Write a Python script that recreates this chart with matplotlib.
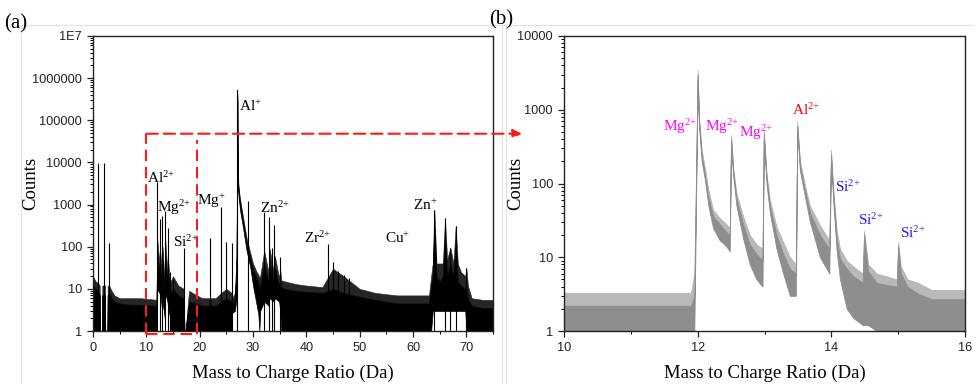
import numpy as np
import matplotlib
matplotlib.use('Agg')
import matplotlib.pyplot as plt
from matplotlib.ticker import LogLocator, FixedLocator, MultipleLocator, NullFormatter
from matplotlib.patches import ConnectionPatch
from matplotlib.lines import Line2D
from matplotlib.transforms import blended_transform_factory

plt.rcParams['mathtext.default'] = 'regular'
SERIF = 'Liberation Serif'
SANS = 'Liberation Sans'

# ---------------- Panel (a): full spectrum 0-75 Da ----------------
# envelope of the dense spectrum: x (Da), spike top, dense top, lower edge
a_x = [0.0, 0.5, 0.9, 1.25, 1.3, 1.7, 1.75, 2.25, 2.3, 2.7, 2.75, 3.0, 3.5, 4.0, 5.0, 7.0, 9.0, 11.9,
       12.05, 12.45, 12.55, 12.95, 13.05, 13.45, 13.55, 13.95, 14.05, 14.45, 14.55, 15.0, 16.0,
       17.0, 17.15, 17.35, 18.0, 19.5, 20.5, 22.0, 23.0, 24.0, 25.0, 26.0, 26.1, 26.6, 26.9, 27.0,
       27.05, 27.1, 27.2, 27.3, 27.6, 28.2, 28.8, 29.45, 30.0, 30.7, 31.0, 31.2, 31.35,
       32.1, 32.9, 33.1, 33.9, 34.1, 34.9, 35.1, 35.3, 36.0, 38.0, 40.0, 43.0, 45.0, 47.0,
       50.0, 53.0, 57.0, 60.0, 63.0, 63.4, 63.7, 64.0, 64.4, 65.0, 65.6, 66.0, 66.4, 67.0,
       67.6, 68.0, 68.4, 69.0, 69.8, 70.0, 70.3, 71.0, 73.0, 75.0]
a_hi = [20, 15, 14, 12, 1, 1, 12, 12, 1, 1, 12, 12, 9, 7, 6, 6, 6, 5.5,
        150, 40, 100, 20, 100, 12, 150, 25, 60, 10, 15, 20, 12,
        10, 1, 1, 9, 7, 6, 6, 6, 8, 10, 8, 6, 8, 60, 5000,
        530000, 30000, 5000, 2500, 1300, 450, 160, 75, 40, 25, 22, 18, 20,
        80, 25, 90, 25, 60, 18, 30, 16, 15, 13, 12, 11, 30, 20,
        10, 8, 7, 7, 7, 20, 40, 750, 40, 40, 40, 475, 50, 95,
        40, 315, 40, 25, 20, 31, 12, 6, 5.5, 5.5]
a_mid = [12, 10, 9, 7, 1, 1, 7, 7, 1, 1, 7, 8, 6, 5, 4.5, 4.2, 4.2, 4,
         60, 25, 50, 12, 50, 8, 60, 15, 30, 6, 8, 10, 7,
         6, 1, 1, 5, 4.5, 4, 4, 4, 5, 6, 5, 4, 6, 30, 2000,
         400000, 20000, 3500, 2000, 1000, 350, 120, 55, 28, 18, 14, 10, 12,
         40, 14, 40, 15, 30, 12, 15, 11, 10, 9, 8.5, 8, 10, 8,
         6.5, 5.5, 4.5, 4.5, 4.5, 12, 20, 300, 20, 15, 20, 200, 20, 40,
         20, 150, 15, 12, 10, 12, 6, 4, 3.5, 3.5]
a_lo = [1, 1, 1, 1, 1, 1, 1, 1, 1, 1, 1, 1, 1, 1, 1, 1, 1, 1,
        10, 8, 10, 3, 5, 2, 8, 5, 4, 2, 1, 1, 1,
        1, 1, 1, 1, 1, 1, 1, 1, 1, 1, 1, 2.7, 3, 6, 100,
        300000, 10000, 2500, 1500, 700, 250, 80, 35, 12, 4, 2.5, 1, 3,
        5, 4, 6, 5, 6, 5, 3, 1, 1, 1, 1, 1, 1, 1,
        1, 1, 1, 1, 1, 1, 3, 3, 3, 3, 3, 3, 3, 3,
        3, 3, 3, 3, 3, 1, 1, 1, 1, 1]
# individual sharp peaks (Da, counts)
a_peak_x = [1.0, 2.0, 3.0, 12.0, 12.5, 13.0, 13.5, 14.0, 14.5, 15.0, 17.0, 22.0, 24.0, 25.0,
            26.0, 27.05, 29.0, 32.0, 33.0, 33.5, 34.0, 35.0, 44.0, 45.0, 46.0, 47.0, 48.0,
            64.0, 66.0, 67.0, 68.0, 70.0]
a_peak_h = [9500, 9500, 120, 3500, 450, 530, 700, 280, 25, 16, 95, 160, 880, 130,
            120, 530000, 1200, 680, 520, 92, 330, 58, 115, 44, 26, 21, 18,
            750, 475, 95, 315, 31]
a_lab_text = [r'Al$^{+}$', r'Al$^{2{+}}$', r'Mg$^{2{+}}$', r'Si$^{2{+}}$', r'Mg$^{+}$',
              r'Zn$^{2{+}}$', r'Zr$^{2{+}}$', r'Cu$^{+}$', r'Zn$^{+}$']
a_lab_x = [27.4, 10.1, 12.0, 15.0, 19.5, 31.3, 39.6, 54.75, 60.0]
a_lab_y = [166000, 3240, 665, 98, 980, 630, 122, 122, 740]
a_xticks = [0, 10, 20, 30, 40, 50, 60, 70]
a_yticks = [1, 10, 100, 1000, 10000, 100000, 1000000, 10000000]
a_yticklabels = ['1', '10', '100', '1000', '10000', '100000', '1000000', '1E7']

# ---------------- Panel (b): zoom 10-16 Da ----------------
b_x = [10.0, 11.9, 11.95, 12.0, 12.02, 12.06, 12.11, 12.16, 12.23, 12.33, 12.43, 12.48,
       12.5, 12.53, 12.58, 12.68, 12.78, 12.88, 12.97, 12.99, 13.03, 13.08, 13.18, 13.28,
       13.38, 13.47, 13.49, 13.53, 13.6, 13.68, 13.83, 13.97, 13.995, 14.03, 14.08, 14.13,
       14.23, 14.33, 14.47, 14.49, 14.55, 14.68, 14.83, 14.98, 15.0, 15.04, 15.14, 15.3,
       15.5, 16.0]
b_hi = [3.3, 3.3, 6, 3500, 810, 285, 160, 82, 44, 34, 28, 25,
        455, 170, 74, 36, 20, 15, 13, 530, 138, 60, 26, 16,
        10, 8, 690, 208, 100, 50, 27, 17, 285, 82, 23, 13,
        9, 7.5, 6, 23, 8, 6, 5.5, 5, 16, 7.5, 5, 4.5,
        3.6, 3.6]
b_mid = [2.2, 2.2, 3, 3000, 700, 240, 130, 65, 36, 28, 22, 20,
         400, 150, 62, 28, 15, 11, 9, 470, 120, 50, 20, 11,
         7, 6, 600, 180, 85, 40, 20, 13, 250, 70, 18, 9.5,
         7, 5.5, 4.5, 20, 6.5, 4.5, 4.2, 4, 14, 6, 4, 3.2,
         2.7, 2.7]
b_lo = [1, 1, 1, 2500, 600, 200, 110, 50, 25, 17, 14, 12,
        350, 130, 50, 18, 8, 5, 4, 400, 100, 40, 13, 6,
        3, 3, 500, 150, 70, 30, 10, 6, 220, 55, 12, 5,
        2, 1.5, 1.2, 1.2, 1.2, 1, 1, 1, 1, 1, 1, 1,
        1, 1]
b_lab_text = [r'Mg$^{2{+}}$', r'Mg$^{2{+}}$', r'Mg$^{2{+}}$', r'Al$^{2{+}}$',
              r'Si$^{2{+}}$', r'Si$^{2{+}}$', r'Si$^{2{+}}$']
b_lab_x = [11.48, 12.11, 12.62, 13.41, 14.06, 14.40, 15.03]
b_lab_y = [515, 515, 427, 850, 77, 27, 18]
b_lab_col = ['#ff00ff', '#ff00ff', '#ff00ff', '#ff0000', '#1a1aff', '#1a1aff', '#1a1aff']
b_xticks = [10, 12, 14, 16]
b_yticks = [1, 10, 100, 1000, 10000]

# zoom box drawn on panel (a)
box_x = [10.0, 19.5]
box_y = [0.85, 48000]

W, H = 979, 388
fig = plt.figure(figsize=(W / 100, H / 100), dpi=100)
ax_a = fig.add_axes([93 / W, 1 - 331 / H, 400 / W, 295 / H])
ax_b = fig.add_axes([564 / W, 1 - 331 / H, 401 / W, 295 / H])


def style(ax):
    for s in ax.spines.values():
        s.set_linewidth(1.0)
        s.set_color('#222222')
    ax.tick_params(which='major', direction='out', length=4.5, width=0.9, pad=3.5,
                   labelsize=9.2, colors='#222222')
    ax.tick_params(which='minor', direction='out', length=2.5, width=0.7)
    for lab in ax.get_xticklabels() + ax.get_yticklabels():
        lab.set_fontfamily(SANS)


# ---- panel a ----
ax_a.fill_between(a_x, a_mid, a_hi, color='#262626', lw=0.4, edgecolor='#262626')
ax_a.fill_between(a_x, a_lo, a_mid, color='black', lw=0.5, edgecolor='black')
ax_a.vlines(a_peak_x, 1, a_peak_h, color='black', lw=0.8)
ax_a.set_yscale('log')
ax_a.set_xlim(0, 75)
ax_a.set_ylim(1, 1e7)
ax_a.xaxis.set_major_locator(FixedLocator(a_xticks))
ax_a.xaxis.set_minor_locator(MultipleLocator(5))
ax_a.yaxis.set_major_locator(FixedLocator(a_yticks))
ax_a.set_yticklabels(a_yticklabels)
ax_a.yaxis.set_minor_locator(LogLocator(base=10, subs=np.arange(2, 10), numticks=20))
ax_a.yaxis.set_minor_formatter(NullFormatter())
style(ax_a)
for t, x, y in zip(a_lab_text, a_lab_x, a_lab_y):
    ax_a.text(x, y, t, fontsize=11, fontfamily=SERIF, ha='left', va='baseline', color='black')
ax_a.set_xlabel('Mass to Charge Ratio (Da)', fontsize=13.5, fontfamily=SERIF)
ax_a.set_ylabel('Counts', fontsize=13.5, fontfamily=SERIF)
ax_a.xaxis.set_label_coords(0.5, -0.115)
ax_a.yaxis.set_label_coords(-0.135, 0.5)

# zoom box
red_kw = dict(color='#ff1a1a', lw=1.5, dashes=(5.5, 2.8), clip_on=False, zorder=5)
ax_a.plot([box_x[0], box_x[0]], box_y, **red_kw)
ax_a.plot(box_x, [box_y[0], box_y[0]], **red_kw)
ax_a.plot([box_x[1], box_x[1]], [box_y[0], box_y[1] * 0.7], **red_kw)
tB = blended_transform_factory(ax_b.transAxes, ax_a.transData)
con = ConnectionPatch(xyA=(box_x[0], box_y[1]), coordsA=ax_a.transData,
                      xyB=(-0.105, box_y[1]), coordsB=tB,
                      arrowstyle='-|>', mutation_scale=13, color='#ff1a1a',
                      lw=1.5, linestyle=(0, (5.5, 2.8)), zorder=5)
fig.add_artist(con)

# ---- panel b ----
ax_b.fill_between(b_x, b_mid, b_hi, color='#b9b9b9', lw=0.5, edgecolor='#b0b0b0')
ax_b.fill_between(b_x, b_lo, b_mid, color='#8e8e8e', lw=0.6, edgecolor='#8e8e8e')
ax_b.set_yscale('log')
ax_b.set_xlim(10, 16)
ax_b.set_ylim(1, 10000)
ax_b.xaxis.set_major_locator(FixedLocator(b_xticks))
ax_b.xaxis.set_minor_locator(MultipleLocator(1))
ax_b.yaxis.set_major_locator(FixedLocator(b_yticks))
ax_b.set_yticklabels([str(v) for v in b_yticks])
ax_b.yaxis.set_minor_locator(LogLocator(base=10, subs=np.arange(2, 10), numticks=20))
ax_b.yaxis.set_minor_formatter(NullFormatter())
style(ax_b)
for t, x, y, c in zip(b_lab_text, b_lab_x, b_lab_y, b_lab_col):
    ax_b.text(x, y, t, fontsize=11, fontfamily=SERIF, ha='left', va='baseline', color=c)
ax_b.set_xlabel('Mass to Charge Ratio (Da)', fontsize=13.5, fontfamily=SERIF)
ax_b.set_ylabel('Counts', fontsize=13.5, fontfamily=SERIF)
ax_b.xaxis.set_label_coords(0.5, -0.115)
ax_b.yaxis.set_label_coords(-0.10, 0.5)

# panel letters
fig.text(4 / W, 1 - 28 / H, '(a)', fontsize=15, fontfamily=SERIF, ha='left', va='baseline')
fig.text(489 / W, 1 - 24 / H, '(b)', fontsize=15, fontfamily=SERIF, ha='left', va='baseline')

# faint sub-image borders
fc = '#e2e2e2'
fig.add_artist(Line2D([21 / W, 973 / W], [1 - 25 / H, 1 - 25 / H], color=fc, lw=0.8))
fig.add_artist(Line2D([21 / W, 21 / W], [1 - 25 / H, 1 - 383 / H], color=fc, lw=0.8))
fig.add_artist(Line2D([502 / W, 502 / W], [1 - 25 / H, 1 - 383 / H], color=fc, lw=0.8))
fig.add_artist(Line2D([506 / W, 506 / W], [1 - 25 / H, 1 - 383 / H], color=fc, lw=0.8))

fig.savefig('out.png', dpi=100)
